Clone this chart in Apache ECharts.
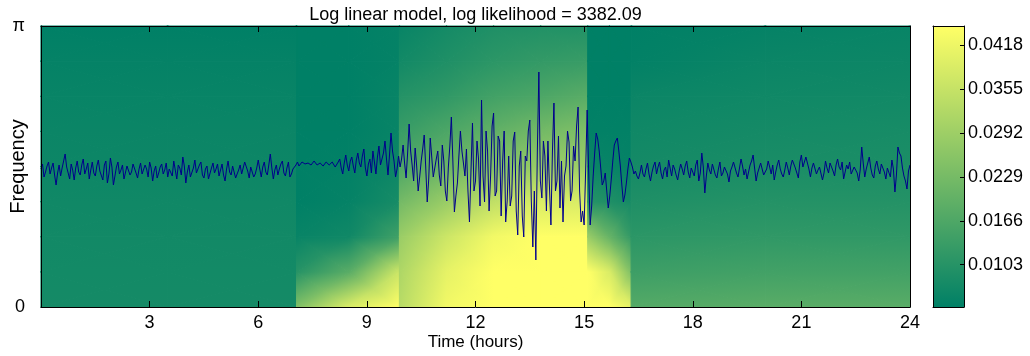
<!DOCTYPE html>
<html>
<head>
<meta charset="utf-8">
<script src="https://cdn.jsdelivr.net/npm/echarts@6/dist/echarts.min.js"></script>
<style>
  html, body { margin: 0; padding: 0; background: #ffffff; }
  #chart { width: 1030px; height: 356px; }
</style>
</head>
<body>
<div id="chart"></div>
<script>
// ---- Text ----
const chartTitle = 'Log linear model, log likelihood = 3382.09';
const timeAxisName = 'Time (hours)';
const freqAxisName = 'Frequency';

// ---- Spectrum colour scale ----
const colorMin = 0.00424;
const colorMax = 0.04452;
const colorTicks = [0.0103, 0.0166, 0.0229, 0.0292, 0.0355, 0.0418];

// ---- Spectral power per stationary segment ----
// Frequency knots as fractions of pi (rows of each grid, bottom to top)
const freqKnotsPi = [0, 0.125, 0.25, 0.375, 0.5, 0.625, 0.75, 0.875, 1];

const segATimes = [0, 3.5, 7.06];
const segAPower = [
  [0.0075, 0.0075, 0.0075],
  [0.0073, 0.0073, 0.0073],
  [0.0071, 0.0071, 0.0071],
  [0.0067, 0.0067, 0.0067],
  [0.0063, 0.0063, 0.0063],
  [0.0059, 0.0059, 0.0059],
  [0.0055, 0.0055, 0.0055],
  [0.0050, 0.0050, 0.0050],
  [0.0042, 0.0042, 0.0042]
];

const segBTimes = [7.06, 8.5, 9.9];
const segBPower = [
  [0.0244, 0.0385, 0.0445],
  [0.0103, 0.0183, 0.0365],
  [0.0055, 0.0067, 0.0143],
  [0.0042, 0.0050, 0.0079],
  [0.0042, 0.0046, 0.0063],
  [0.0042, 0.0042, 0.0055],
  [0.0042, 0.0042, 0.0055],
  [0.0042, 0.0042, 0.0050],
  [0.0042, 0.0042, 0.0050]
];

const segCTimes = [9.9, 11.2, 12.5, 13.8, 15.1];
const segCPower = [
  [0.0332, 0.0425, 0.0445, 0.0445, 0.0445],
  [0.0316, 0.0405, 0.0445, 0.0445, 0.0445],
  [0.0284, 0.0365, 0.0425, 0.0445, 0.0445],
  [0.0224, 0.0284, 0.0345, 0.0385, 0.0385],
  [0.0163, 0.0212, 0.0244, 0.0284, 0.0292],
  [0.0131, 0.0163, 0.0196, 0.0224, 0.0244],
  [0.0099, 0.0119, 0.0147, 0.0163, 0.0183],
  [0.0071, 0.0091, 0.0111, 0.0123, 0.0131],
  [0.0055, 0.0075, 0.0091, 0.0095, 0.0095]
];

const segDTimes = [15.1, 15.7, 16.3];
const segDPower = [
  [0.0445, 0.0445, 0.0405],
  [0.0445, 0.0385, 0.0244],
  [0.0284, 0.0204, 0.0123],
  [0.0103, 0.0091, 0.0075],
  [0.0059, 0.0055, 0.0050],
  [0.0046, 0.0046, 0.0046],
  [0.0042, 0.0042, 0.0042],
  [0.0042, 0.0042, 0.0042],
  [0.0042, 0.0042, 0.0042]
];

const segETimes = [16.3, 20, 24];
const segEPower = [
  [0.0175, 0.0183, 0.0183],
  [0.0139, 0.0147, 0.0147],
  [0.0111, 0.0119, 0.0119],
  [0.0091, 0.0099, 0.0099],
  [0.0075, 0.0083, 0.0087],
  [0.0067, 0.0075, 0.0079],
  [0.0059, 0.0067, 0.0071],
  [0.0046, 0.0059, 0.0063],
  [0.0042, 0.0050, 0.0055]
];

// ---- Recorded signal, one sample every 2.5 minutes ----
const sampleStepHours = 2.5 / 60;
const signalMin = -136;
const signalMax = 145;
const signalValues = [
  // 0 - 7 h
  2, 7, -6, -1, 5, 9, -3, 3, 8, -4, -14, -2, 6, -5, 3, 10, 17, 4, -2, -8, 7, 1, -9, 3,
  10, -1, -4, 6, 12, -3, 2, 8, -8, 1, 9, -2, -5, 5, 11, 0, -2, -9, 6, 10, -12, -3, 13, 4,
  -14, -5, 4, 9, -3, 1, 6, -8, -6, 5, 3, -4, -1, 7, 5, -2, -7, 2, 8, -3, -4, 6, 2, -6,
  9, 3, -10, 0, 5, -7, -2, 4, 7, -3, 1, 8, -6, 2, 4, -5, 10, 1, -8, 6, 3, -4, 14, 5,
  -12, -1, 6, -6, -4, 3, 11, -2, -3, 6, 9, -4, -7, 2, 5, -8, -9, 3, 8, -2, 2, 7, -5, 1,
  7, -4, -10, 2, 10, -1, -4, 5, 3, -7, -6, 1, 6, -3, -2, 9, 8, 0, -7, 4, 5, -6, -3, 3,
  11, 2, -6, 4, 9, -1, -4, 6, 17, 3, -8, 1, 6, -4, 2, 7, 10, -2, -5, 3, 9, -6, -3, 2, 4,
  // 7 - 9.9 h
  6,
  9, 5, 6, 9, 10, 7, 5, 8, 8, 6, 7, 10, 11, 6, 4, 8, 9, 5, 6, 9, 10, 6, 5, 9,
  7, 4, 2, 9, 12, 3, -3, 8, 16, 6, 0, 10,
  14, 5, -2, 11, 18, 8, 4, 15, 22, 3, -5, 7, 12, -2, 20, 9, -3, 14, 25, 6, 8, 18, 30, 12,
  -4, 16, 38, 20, 10, -6, 2, 15,
  // 9.9 - 15.1 h
  4, 12, 26, 8, -7, 18, 47, 20, 6, -10, 23, 5, -20, -6, 10, 22, 36, 4, -31, -8, 33, 14, -6, 3,
  12, 20, -4, -15, 26, 10, -20, -30, 4, 25, 54, 10, -41, -25, -12, 15, 40, 20, 8, -5, 22, -20, -51, 0,
  48, -20, -10, 30, 12, -35, 71, -5, -31, 40, 20, -40, -5, 45, 58, -25, -20, 35, 30, -45, 10, 40, -51, -30,
  15, -35, -25, 30, 39, -40, -64, 5, 20, -45, -66, 15, 10, 40, 51, -30, -76, -20, -89, 20, 99, -10, -27, 30,
  15, -40, 30, -15, -54, 20, 68, -20, -10, 35, -37, 10, -51, -5, 5, 40, 29, -30, -20, 25, 10, 45, 64, -20,
  -51, -40, -54, 0,
  // 15.1 - 16.6 h
  61, 0, -54, -35, -5, 18, 38, 32, 20, 3, -14, -10, -2, -20, -37, -25, -8, 10, 26, 30,
  33, 20, 5, -14, -31, -24, -12, 2, 13, 9, 4, -3, 0, -5, -8, -2, 6, -3,
  // 16.6 - 24 h
  -6, 2, 8, -3, -10, -1, 5, 9, -3, 4, 9, -2, -8, 1, 4, -6, 11, 3, -5, 6, 2, -4, -9, 0,
  7, 2, -4, 5, 10, -1, -7, 3, 3, -5, 6, 11, -10, -2, 18, 4, -22, -5, 8, 1, -3, 7, 5, -4,
  -7, 2, 9, -5, -2, 4, 6, -3, -11, 0, 4, 9, 8, -2, -6, 3, 12, 5, -4, 2, -8, -1, 6, 10,
  16, 3, -10, -2, 3, 8, 7, -4, -5, 2, 10, 4, -3, 6, -9, -1, 6, 11, 2, -3, -6, 1, 9, 3,
  -4, 5, 11, 7, 3, -2, -7, 9, 16, 4, 5, 14, 12, 2, -6, 3, 8, 10, -3, 1, 4, 6, -9, -2,
  10, 3, -2, 8, 7, 0, -5, 6, 12, 4, 1, 9, -8, -1, 6, 2, 9, -3, -4, 4, 5, -2, -10, 1,
  24, 8, -6, 2, 8, 14, 3, -4, -7, 5, 10, 2, -3, 7, 6, -1, -8, 3, 4, -6, 11, 2, -21, -4,
  24, 18, 15, 3, -5, -10, -18, 0, 6
];

// ---- Styling ----
const FONT = '"Liberation Sans", Arial, Helvetica, sans-serif';
const INK = '#000000';
const LINE_COLOR = '#00008c';

// "summer" colour map: teal-green at the low end, yellow at the high end
function powerColor(v) {
  const t = Math.max(0, Math.min(1, (v - colorMin) / (colorMax - colorMin)));
  return 'rgb(' + Math.round(255 * t) + ',' + Math.round(128 + 127 * t) + ',102)';
}

// Split each grid cell into four triangles around its centre so the
// spectrum can be shaded smoothly between knots.
const segments = [
  [segATimes, segAPower],
  [segBTimes, segBPower],
  [segCTimes, segCPower],
  [segDTimes, segDPower],
  [segETimes, segEPower]
];
const spectrumPatches = [];
segments.forEach(function (seg) {
  const times = seg[0], power = seg[1];
  for (let r = 0; r < freqKnotsPi.length - 1; r++) {
    const f0 = freqKnotsPi[r] * Math.PI, f1 = freqKnotsPi[r + 1] * Math.PI;
    for (let c = 0; c < times.length - 1; c++) {
      const corners = [
        [times[c], f0, power[r][c]],
        [times[c + 1], f0, power[r][c + 1]],
        [times[c + 1], f1, power[r + 1][c + 1]],
        [times[c], f1, power[r + 1][c]]
      ];
      const centre = [
        (times[c] + times[c + 1]) / 2,
        (f0 + f1) / 2,
        (corners[0][2] + corners[1][2] + corners[2][2] + corners[3][2]) / 4
      ];
      for (let k = 0; k < 4; k++) {
        const a = corners[k], b = corners[(k + 1) % 4];
        spectrumPatches.push([centre[0], centre[1], centre[2], a[0], a[1], a[2], b[0], b[1], b[2]]);
      }
    }
  }
});

// Linear gradient that reproduces a linear colour ramp over a triangle
function patchFill(pts, vals) {
  const x0 = pts[0][0], y0 = pts[0][1];
  const dx1 = pts[1][0] - x0, dy1 = pts[1][1] - y0;
  const dx2 = pts[2][0] - x0, dy2 = pts[2][1] - y0;
  const dv1 = vals[1] - vals[0], dv2 = vals[2] - vals[0];
  const det = dx1 * dy2 - dx2 * dy1;
  const vmin = Math.min(vals[0], vals[1], vals[2]);
  const vmax = Math.max(vals[0], vals[1], vals[2]);
  if (Math.abs(det) < 1e-9 || vmax - vmin < 1e-7) return powerColor(vals[0]);
  const a = (dv1 * dy2 - dv2 * dy1) / det;
  const b = (dx1 * dv2 - dx2 * dv1) / det;
  const g2 = a * a + b * b;
  const s = (vmin - vals[0]) / g2, e = (vmax - vals[0]) / g2;
  return new echarts.graphic.LinearGradient(
    x0 + a * s, y0 + b * s, x0 + a * e, y0 + b * e,
    [{ offset: 0, color: powerColor(vmin) }, { offset: 1, color: powerColor(vmax) }],
    true
  );
}

function renderPatch(params, api) {
  const pts = [], vals = [];
  for (let k = 0; k < 3; k++) {
    pts.push(api.coord([api.value(3 * k), api.value(3 * k + 1)]));
    vals.push(api.value(3 * k + 2));
  }
  const fill = patchFill(pts, vals);
  return {
    type: 'polygon',
    shape: { points: pts },
    style: { fill: fill, stroke: fill, lineWidth: 1.2, lineJoin: 'round' }
  };
}

function renderColorbar(params, api) {
  const tl = api.coord([api.value(0), api.value(3)]);
  const br = api.coord([api.value(1), api.value(2)]);
  return {
    type: 'rect',
    shape: { x: tl[0], y: tl[1], width: br[0] - tl[0], height: br[1] - tl[1] },
    style: {
      fill: new echarts.graphic.LinearGradient(0, 0, 0, 1, [
        { offset: 0, color: powerColor(api.value(3)) },
        { offset: 1, color: powerColor(api.value(2)) }
      ])
    }
  };
}

const signalData = signalValues.map(function (v, i) { return [i * sampleStepHours, v]; });

const boxLine = { show: true, onZero: false, lineStyle: { color: INK, width: 1 } };
const noSplit = { show: false };

const chart = echarts.init(document.getElementById('chart'), null, { renderer: 'canvas' });
chart.setOption({
  animation: false,
  backgroundColor: '#ffffff',
  textStyle: { fontFamily: FONT, color: INK },
  graphic: [{
    type: 'text',
    x: 475.5,
    y: 15,
    style: {
      text: chartTitle,
      align: 'center',
      verticalAlign: 'middle',
      fontFamily: FONT,
      fontSize: 18,
      fill: INK
    }
  }],
  grid: [
    { left: 41, right: 120, top: 26, bottom: 49, outerBoundsMode: 'none', containLabel: false },
    { left: 933, width: 31, top: 26, bottom: 49, outerBoundsMode: 'none', containLabel: false }
  ],
  xAxis: [
    {
      gridIndex: 0, type: 'value', min: 0, max: 24, interval: 3, position: 'bottom', z: 5,
      axisLine: boxLine,
      axisTick: { show: true, inside: true, length: 6, lineStyle: { color: INK } },
      axisLabel: {
        color: INK, fontSize: 18, fontFamily: FONT, margin: 7,
        formatter: function (v) { return v === 0 ? '' : String(v); }
      },
      splitLine: noSplit,
      name: timeAxisName, nameLocation: 'middle', nameGap: 27, nameMoveOverlap: false,
      nameTextStyle: { color: INK, fontSize: 17, fontFamily: FONT }
    },
    {
      gridIndex: 0, type: 'value', min: 0, max: 24, interval: 3, position: 'top', z: 5,
      axisLine: boxLine,
      axisTick: { show: true, inside: true, length: 6, lineStyle: { color: INK } },
      axisLabel: { show: false },
      splitLine: noSplit
    },
    {
      gridIndex: 1, type: 'value', min: 0, max: 1, position: 'bottom', z: 5,
      axisLine: boxLine, axisTick: { show: false }, axisLabel: { show: false }, splitLine: noSplit
    },
    {
      gridIndex: 1, type: 'value', min: 0, max: 1, position: 'top', z: 5,
      axisLine: boxLine, axisTick: { show: false }, axisLabel: { show: false }, splitLine: noSplit
    }
  ],
  yAxis: [
    {
      gridIndex: 0, type: 'value', min: 0, max: Math.PI, interval: Math.PI, position: 'left', z: 5,
      axisLine: boxLine,
      axisTick: { show: false },
      axisLabel: {
        color: INK, fontSize: 18, fontFamily: FONT, margin: 16,
        formatter: function (v) { return v === 0 ? '0' : '\u03c0'; }
      },
      splitLine: noSplit,
      name: freqAxisName, nameLocation: 'middle', nameGap: 13, nameRotate: 90, nameMoveOverlap: false,
      nameTextStyle: { color: INK, fontSize: 20, fontFamily: FONT }
    },
    {
      gridIndex: 0, type: 'value', min: signalMin, max: signalMax, position: 'right', z: 5,
      axisLine: boxLine, axisTick: { show: false }, axisLabel: { show: false }, splitLine: noSplit
    },
    {
      gridIndex: 1, type: 'value', min: colorMin, max: colorMax, position: 'right', z: 5,
      axisLine: boxLine,
      axisTick: { show: true, inside: true, length: 4, customValues: colorTicks, lineStyle: { color: INK } },
      axisLabel: {
        color: INK, fontSize: 18, fontFamily: FONT, margin: 4, customValues: colorTicks,
        formatter: function (v) { return v.toFixed(4); }
      },
      splitLine: noSplit
    },
    {
      gridIndex: 1, type: 'value', min: colorMin, max: colorMax, position: 'left', z: 5,
      axisLine: boxLine, axisTick: { show: false }, axisLabel: { show: false }, splitLine: noSplit
    }
  ],
  series: [
    {
      name: 'spectrum',
      type: 'custom',
      xAxisIndex: 0, yAxisIndex: 0,
      renderItem: renderPatch,
      data: spectrumPatches,
      silent: true,
      z: 1
    },
    {
      name: 'signal',
      type: 'line',
      xAxisIndex: 0, yAxisIndex: 1,
      data: signalData,
      showSymbol: false,
      symbol: 'none',
      lineStyle: { color: LINE_COLOR, width: 1 },
      silent: true,
      z: 3
    },
    {
      name: 'colour scale',
      type: 'custom',
      xAxisIndex: 2, yAxisIndex: 2,
      renderItem: renderColorbar,
      data: [[0, 1, colorMin, colorMax]],
      silent: true,
      z: 1
    }
  ]
});
</script>
</body>
</html>
